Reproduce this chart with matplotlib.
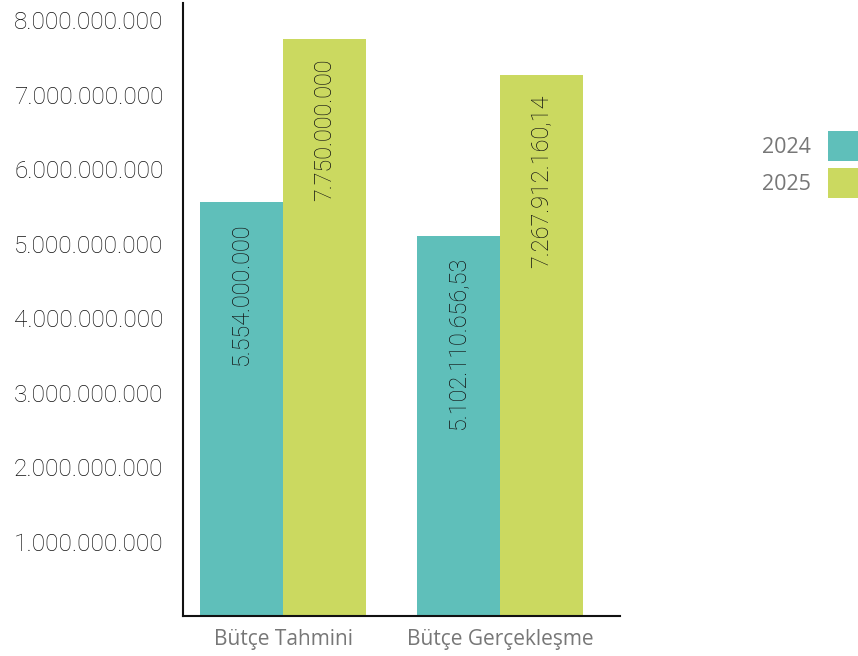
import matplotlib.pyplot as plt
import numpy as np

categories = ['Bütçe Tahmini', 'Bütçe Gerçekleşme']
years = ['2024', '2025']
values_2024 = [5554000000, 5102110656.53]
values_2025 = [7750000000, 7267912160.14]
labels_2024 = ['5.554.000.000', '5.102.110.656,53']
labels_2025 = ['7.750.000.000', '7.267.912.160,14']
yticks = [1e9, 2e9, 3e9, 4e9, 5e9, 6e9, 7e9, 8e9]
ytick_labels = ['1.000.000.000', '2.000.000.000', '3.000.000.000', '4.000.000.000',
                '5.000.000.000', '6.000.000.000', '7.000.000.000', '8.000.000.000']
colors = ['#5fbfba', '#cbd960']

fig = plt.figure(figsize=(8.58, 6.56), dpi=100)
ax = fig.add_axes([183/858, 40/656, 437/858, 613/656])

x = np.arange(len(categories))
w = 83/217
b1 = ax.bar(x - w/2, values_2024, w, color=colors[0], label=years[0])
b2 = ax.bar(x + w/2, values_2025, w, color=colors[1], label=years[1])

for bars, labs in ((b1, labels_2024), (b2, labels_2025)):
    for r, lab in zip(bars, labs):
        ax.annotate(lab, (r.get_x() + r.get_width()/2, r.get_height()),
                    xytext=(0, -20), textcoords='offset pixels',
                    rotation=90, ha='center', va='top',
                    fontsize=16.8, color='#111111', family='Roboto', fontweight='light')

ax.set_xlim(-100/217, 337/217)
ax.set_ylim(0, 8.23e9)
ax.set_yticks(yticks)
ax.set_yticklabels(ytick_labels, fontsize=17.6, color='#111111', family='Roboto', fontweight='light')
ax.set_xticks(x)
ax.set_xticklabels(categories, fontsize=15, color='#777777', family='Open Sans')
ax.tick_params(axis='both', length=0)
ax.tick_params(axis='y', pad=14)
ax.tick_params(axis='x', pad=9)
for s in ['top', 'right']:
    ax.spines[s].set_visible(False)
for s in ['left', 'bottom']:
    ax.spines[s].set_linewidth(1.5)
    ax.spines[s].set_color('#111111')

fig.legend(loc='upper right', bbox_to_anchor=(1.0, (656-131)/656),
           bbox_transform=fig.transFigure, frameon=False, markerfirst=False,
           borderpad=0, borderaxespad=0, handlelength=1.4, handleheight=1.75,
           handletextpad=0.8, labelspacing=0.35,
           prop={'family': 'Open Sans', 'size': 15.5}, labelcolor='#777777')

plt.savefig('out.png', dpi=100)
